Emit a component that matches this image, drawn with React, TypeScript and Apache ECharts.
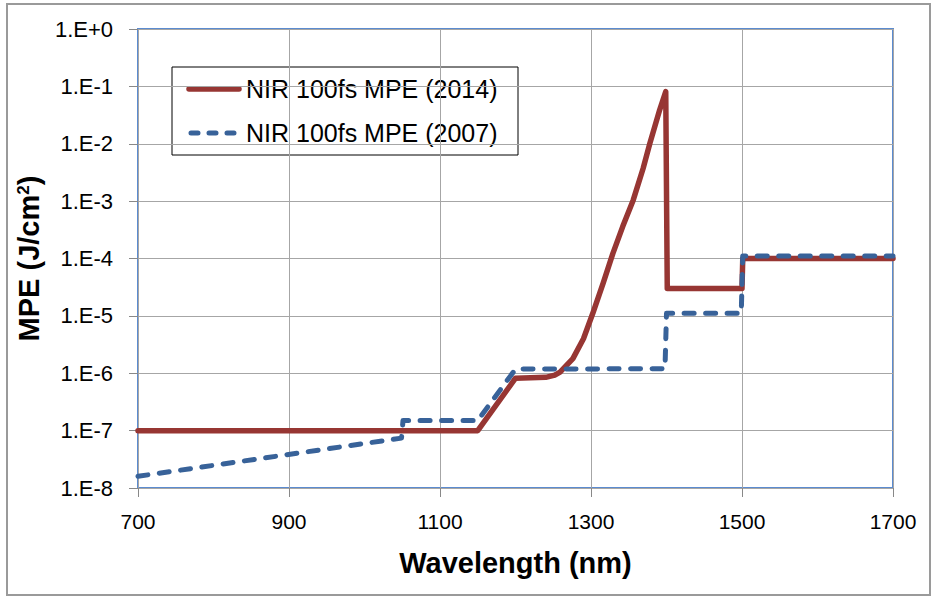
import React, { useEffect, useRef } from "react";
import * as echarts from "echarts";

const xTicks = [700, 900, 1100, 1300, 1500, 1700];
const seriesNames = ["NIR 100fs MPE (2014)", "NIR 100fs MPE (2007)"];

const mpe2014: [number, number][] = [
  [700, 1e-7], [1150, 1e-7], [1200, 8.2e-7], [1240, 8.5e-7], [1252, 9.3e-7],
  [1259, 1.05e-6], [1276, 1.8e-6], [1290, 4.0e-6], [1303, 1.17e-5], [1316, 3.7e-5],
  [1329, 1.23e-4], [1342, 3.6e-4], [1356, 1.05e-3], [1369, 3.7e-3], [1378, 1.02e-2],
  [1391, 3.9e-2], [1399, 8.1e-2], [1401, 3.0e-5], [1500, 3.0e-5], [1501, 1e-4], [1700, 1e-4],
];

const mpe2007: [number, number][] = [
  [700, 1.6e-8], [1049, 7.4e-8], [1051, 1.5e-7], [1150, 1.5e-7], [1200, 1.18e-6],
  [1398, 1.2e-6], [1400, 1.11e-5], [1499, 1.11e-5], [1501, 1.11e-4], [1700, 1.11e-4],
];

const FONT = "Liberation Sans";
const RED = "#973633";
const BLUE = "#386299";

export default function App() {
  const ref = useRef<HTMLDivElement>(null);
  useEffect(() => {
    if (!ref.current) return;
    const chart = echarts.init(ref.current, undefined, { renderer: "svg" });
    chart.setOption({
      animation: false,
      backgroundColor: "#fff",
      textStyle: { fontFamily: FONT },
      grid: {
        left: 138, right: 39, top: 29, bottom: 112,
        show: true, borderColor: "#5B8BD0", borderWidth: 2, backgroundColor: "transparent",
      },
      graphic: [
        {
          type: "rect", z: 0, silent: true,
          shape: { x: 7, y: 4, width: 923, height: 591 },
          style: { fill: "none", stroke: "#9a9a9a", lineWidth: 2 },
        },
        {
          type: "group", z: 10, silent: true,
          children: [
            {
              type: "rect",
              shape: { x: 172, y: 67, width: 346, height: 88 },
              style: { fill: "#fff", stroke: "#000", lineWidth: 1 },
            },
            {
              type: "line",
              shape: { x1: 189, y1: 89, x2: 239, y2: 89 },
              style: { stroke: RED, lineWidth: 5.5, lineCap: "round" },
            },
            {
              type: "text", x: 246, y: 89,
              style: { text: seriesNames[0], fontSize: 25, fontFamily: FONT, fill: "#000", verticalAlign: "middle" },
            },
            {
              type: "line",
              shape: { x1: 191, y1: 133, x2: 239, y2: 133 },
              style: { stroke: BLUE, lineWidth: 5, lineCap: "round", lineDash: [7, 11] },
            },
            {
              type: "text", x: 246, y: 133,
              style: { text: seriesNames[1], fontSize: 25, fontFamily: FONT, fill: "#000", verticalAlign: "middle" },
            },
          ],
        },
      ],
      xAxis: {
        type: "value", min: 700, max: 1700, interval: 200,
        name: "Wavelength (nm)", nameLocation: "middle", nameGap: 60,
        nameTextStyle: { fontSize: 29, fontWeight: "bold", color: "#000", fontFamily: FONT },
        axisLine: { show: false },
        axisTick: { show: true, length: 9, lineStyle: { color: "#888" } },
        axisLabel: {
          fontSize: 21, color: "#000", margin: 23,
          formatter: (v: number) => (xTicks.includes(v) ? String(v) : ""),
        },
        splitLine: { show: true, lineStyle: { color: "#a6a6a6", width: 1 } },
      },
      yAxis: {
        type: "log", logBase: 10, min: 1e-8, max: 1,
        name: "MPE (J/cm{s|2})", nameLocation: "middle", nameGap: 90,
        nameTextStyle: {
          fontSize: 29, fontWeight: "bold", color: "#000", fontFamily: FONT,
          rich: { s: { fontSize: 17, fontWeight: "bold", verticalAlign: "top", lineHeight: 14, fontFamily: FONT } },
        },
        axisLine: { show: false },
        axisTick: { show: true, length: 9, lineStyle: { color: "#888" } },
        axisLabel: {
          fontSize: 22, color: "#000", margin: 25,
          formatter: (v: number) => {
            const e = Math.round(Math.log10(v));
            return "1.E" + (e >= 0 ? "+" + e : String(e));
          },
        },
        splitLine: { show: true, lineStyle: { color: "#a6a6a6", width: 1 } },
      },
      series: [
        {
          name: seriesNames[0], type: "line", data: mpe2014,
          symbol: "none", z: 3,
          lineStyle: { color: RED, width: 5.5, cap: "round", join: "round" },
          itemStyle: { color: RED },
        },
        {
          name: seriesNames[1], type: "line", data: mpe2007,
          symbol: "none", z: 4,
          lineStyle: { color: BLUE, width: 5, type: [10, 11.5], cap: "round", join: "round" },
          itemStyle: { color: BLUE },
        },
      ],
    });
    return () => chart.dispose();
  }, []);
  return <div ref={ref} style={{ width: 932, height: 600, position: "absolute", left: 0, top: 0 }} />;
}
